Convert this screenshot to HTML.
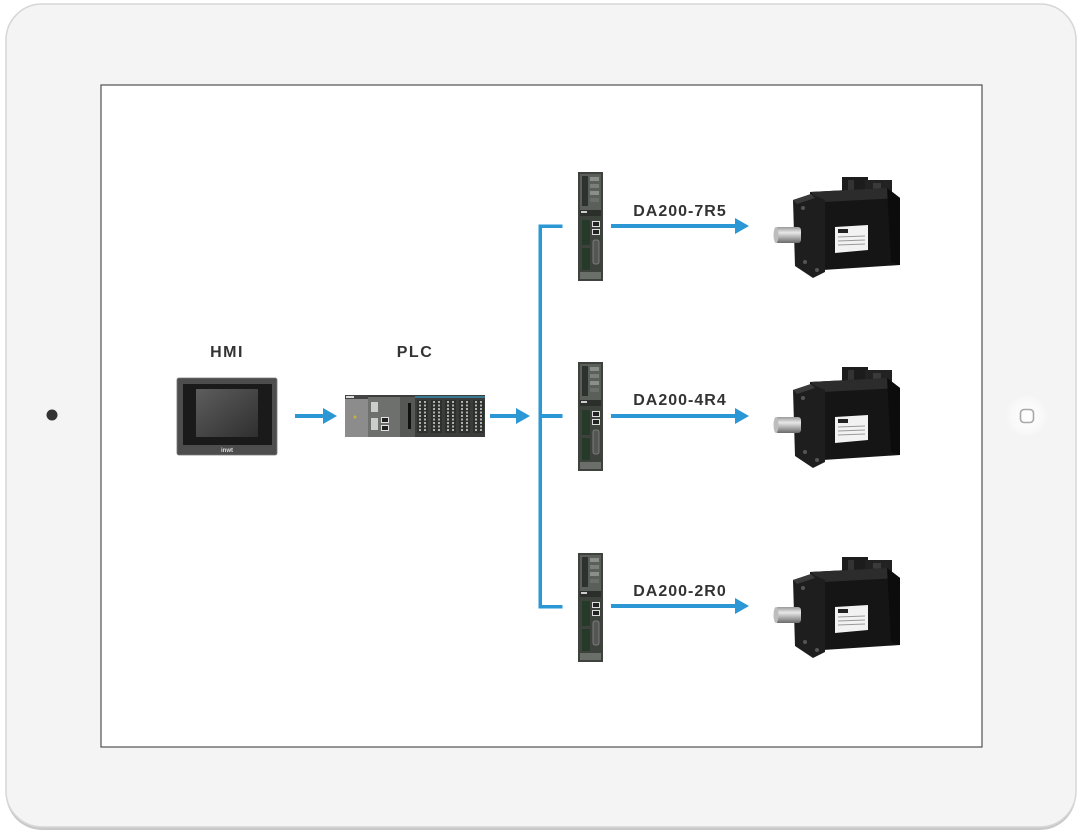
<!DOCTYPE html>
<html>
<head>
<meta charset="utf-8">
<style>
html,body{margin:0;padding:0;background:#fff;}
svg{display:block;}
text{font-family:"Liberation Sans",sans-serif;}
</style>
</head>
<body>
<svg width="1080" height="836" viewBox="0 0 1080 836" xmlns="http://www.w3.org/2000/svg">
<defs>
<linearGradient id="scr" x1="0" y1="0" x2="1" y2="1">
<stop offset="0" stop-color="#5d5d5d"/><stop offset="1" stop-color="#2f2f2f"/>
</linearGradient>
<linearGradient id="shaft" x1="0" y1="0" x2="0" y2="1">
<stop offset="0" stop-color="#9a9a9a"/><stop offset="0.35" stop-color="#e8e8e8"/><stop offset="1" stop-color="#6a6a6a"/>
</linearGradient>
<radialGradient id="glow" cx="0.5" cy="0.5" r="0.5">
<stop offset="0" stop-color="#ffffff"/><stop offset="0.7" stop-color="#f8f8f8"/><stop offset="1" stop-color="#f4f4f4" stop-opacity="0"/>
</radialGradient>
<g id="motor">
<!-- connectors -->
<rect x="77" y="7" width="26" height="15" fill="#1c1c1c"/>
<rect x="83" y="10" width="6" height="10" fill="#333"/>
<rect x="100" y="10" width="27" height="15" fill="#222"/>
<rect x="108" y="13" width="8" height="10" fill="#3a3a3a"/>
<!-- body -->
<polygon points="45,22 122,18 135,28 135,95 58,100 45,90" fill="#151515"/>
<polygon points="45,22 122,18 135,28 58,32" fill="#2c2c2c"/>
<polygon points="122,18 135,28 135,95 126,92" fill="#0c0c0c"/>
<!-- flange -->
<polygon points="28,30 46,24 60,30 60,102 48,108 30,96" fill="#1e1e1e"/>
<polygon points="28,30 46,24 50,28 32,34" fill="#3a3a3a"/>
<circle cx="38" cy="38" r="2" fill="#555"/>
<circle cx="40" cy="92" r="2" fill="#555"/>
<circle cx="52" cy="100" r="2" fill="#555"/>
<!-- shaft -->
<rect x="10" y="57" width="26" height="16" rx="3" fill="url(#shaft)"/>
<ellipse cx="11" cy="65" rx="2.5" ry="8" fill="#bdbdbd"/>
<!-- label -->
<polygon points="70,57 103,55 103,80 70,83" fill="#f2f2f2"/>
<rect x="73" y="59" width="10" height="4" fill="#222"/>
<line x1="73" y1="67" x2="100" y2="66" stroke="#999" stroke-width="1"/>
<line x1="73" y1="71" x2="100" y2="70" stroke="#999" stroke-width="1"/>
<line x1="73" y1="75" x2="100" y2="74" stroke="#999" stroke-width="1"/>
</g>
<g id="drive">
<rect x="0" y="0" width="25" height="109" fill="#3d423d"/>
<rect x="2" y="2" width="21" height="36" fill="#5a5f5a"/>
<rect x="4" y="4" width="6" height="30" fill="#2e322e"/>
<rect x="12" y="5" width="9" height="4" fill="#8a8f8a"/>
<rect x="12" y="12" width="9" height="4" fill="#7a7f7a"/>
<rect x="12" y="19" width="9" height="4" fill="#8a8f8a"/>
<rect x="12" y="26" width="9" height="4" fill="#6a6f6a"/>
<rect x="2" y="38" width="21" height="6" fill="#2b2e2b"/>
<rect x="3" y="39" width="6" height="2" fill="#ccc"/>
<rect x="4" y="48" width="8" height="25" fill="#263a2a"/>
<rect x="14" y="49" width="8" height="6" fill="#ddd"/>
<rect x="15" y="50" width="6" height="4" fill="#222"/>
<rect x="14" y="57" width="8" height="6" fill="#ddd"/>
<rect x="15" y="58" width="6" height="4" fill="#222"/>
<rect x="4" y="76" width="8" height="22" fill="#263a2a"/>
<rect x="15" y="68" width="6" height="24" rx="2" fill="#555" stroke="#888" stroke-width="0.8"/>
<rect x="2" y="100" width="21" height="7" fill="#6a6f6a"/>
</g>
</defs>

<!-- tablet frame -->
<rect x="6" y="6" width="1070" height="824" rx="36" fill="#c8c8c8"/>
<rect x="6" y="4" width="1070" height="823" rx="36" fill="#f4f4f4" stroke="#d6d6d6" stroke-width="1.5"/>
<!-- camera -->
<circle cx="52" cy="415" r="5.5" fill="#333"/>
<!-- home button -->
<circle cx="1027" cy="416" r="24" fill="url(#glow)"/>
<rect x="1020.5" y="409.5" width="13" height="13" rx="3.5" fill="none" stroke="#a8a8a8" stroke-width="1.6"/>

<!-- screen -->
<rect x="101" y="85" width="881" height="662" fill="#ffffff" stroke="#505050" stroke-width="1.2"/>

<!-- labels -->
<text x="227" y="357" text-anchor="middle" font-size="16" font-weight="bold" fill="#333" letter-spacing="1.5">HMI</text>
<text x="415" y="357" text-anchor="middle" font-size="16" font-weight="bold" fill="#333" letter-spacing="1.5">PLC</text>
<text x="680" y="216" text-anchor="middle" font-size="16" font-weight="bold" fill="#333" letter-spacing="1">DA200-7R5</text>
<text x="680" y="405" text-anchor="middle" font-size="16" font-weight="bold" fill="#333" letter-spacing="1">DA200-4R4</text>
<text x="680" y="596" text-anchor="middle" font-size="16" font-weight="bold" fill="#333" letter-spacing="1">DA200-2R0</text>

<!-- HMI -->
<rect x="177" y="378" width="100" height="77" rx="2" fill="#4d4d4d" stroke="#777" stroke-width="0.8"/>
<rect x="183" y="384" width="89" height="61" fill="#1a1a1a"/>
<rect x="196" y="389" width="62" height="48" fill="url(#scr)"/>
<text x="227" y="452" text-anchor="middle" font-size="6" font-weight="bold" fill="#ddd">inwt</text>

<!-- PLC -->
<g>
<rect x="345" y="395" width="140" height="42" fill="#3a3d3a"/>
<rect x="345" y="397" width="23" height="40" fill="#8c8c8c"/>
<rect x="345" y="395" width="23" height="4" fill="#444"/>
<rect x="346" y="396" width="8" height="2" fill="#ddd"/>
<circle cx="355" cy="417" r="1.5" fill="#c8b040"/>
<rect x="368" y="397" width="32" height="40" fill="#6e706e"/>
<rect x="371" y="402" width="7" height="10" fill="#ccc"/>
<rect x="371" y="418" width="7" height="12" fill="#ccc"/>
<rect x="381" y="417" width="8" height="6" fill="#e0e0e0"/>
<rect x="382" y="418" width="6" height="4" fill="#222"/>
<rect x="381" y="425" width="8" height="6" fill="#e0e0e0"/>
<rect x="382" y="426" width="6" height="4" fill="#222"/>
<rect x="400" y="397" width="15" height="40" fill="#555855"/>
<rect x="408" y="403" width="3" height="26" fill="#111"/>
<g fill="#c8c8c8">
<rect x="417" y="400" width="11" height="33" fill="#2e302e"/>
<rect x="431" y="400" width="11" height="33" fill="#2e302e"/>
<rect x="445" y="400" width="11" height="33" fill="#2e302e"/>
<rect x="459" y="400" width="11" height="33" fill="#2e302e"/>
<rect x="473" y="400" width="11" height="33" fill="#2e302e"/>
</g>
<g stroke="#d0d0d0" stroke-width="1.6" stroke-dasharray="2 1.5">
<line x1="420" y1="401" x2="420" y2="432"/><line x1="425" y1="401" x2="425" y2="432"/>
<line x1="434" y1="401" x2="434" y2="432"/><line x1="439" y1="401" x2="439" y2="432"/>
<line x1="448" y1="401" x2="448" y2="432"/><line x1="453" y1="401" x2="453" y2="432"/>
<line x1="462" y1="401" x2="462" y2="432"/><line x1="467" y1="401" x2="467" y2="432"/>
<line x1="476" y1="401" x2="476" y2="432"/><line x1="481" y1="401" x2="481" y2="432"/>
</g>
<rect x="415" y="396" width="70" height="2" fill="#3aa0d0" opacity="0.6"/>
</g>

<!-- arrows -->
<g fill="#2b97d4" stroke="none">
<rect x="295" y="414" width="30" height="4"/>
<polygon points="323,408 337,416 323,424"/>
<rect x="490" y="414" width="28" height="4"/>
<polygon points="516,408 530,416 516,424"/>
<!-- bus -->
<rect x="538.5" y="224.5" width="3.5" height="384"/>
<rect x="538.5" y="224.5" width="24" height="3.5"/>
<rect x="538.5" y="414" width="24" height="4"/>
<rect x="538.5" y="605" width="24" height="3.5"/>
<!-- drive to motor -->
<rect x="611" y="224" width="126" height="4"/>
<polygon points="735,218 749,226 735,234"/>
<rect x="611" y="414" width="126" height="4"/>
<polygon points="735,408 749,416 735,424"/>
<rect x="611" y="604" width="126" height="4"/>
<polygon points="735,598 749,606 735,614"/>
</g>

<!-- drives -->
<use href="#drive" x="578" y="172"/>
<use href="#drive" x="578" y="362"/>
<use href="#drive" x="578" y="553"/>

<!-- motors -->
<use href="#motor" x="765" y="170"/>
<use href="#motor" x="765" y="360"/>
<use href="#motor" x="765" y="550"/>
</svg>
</body>
</html>
